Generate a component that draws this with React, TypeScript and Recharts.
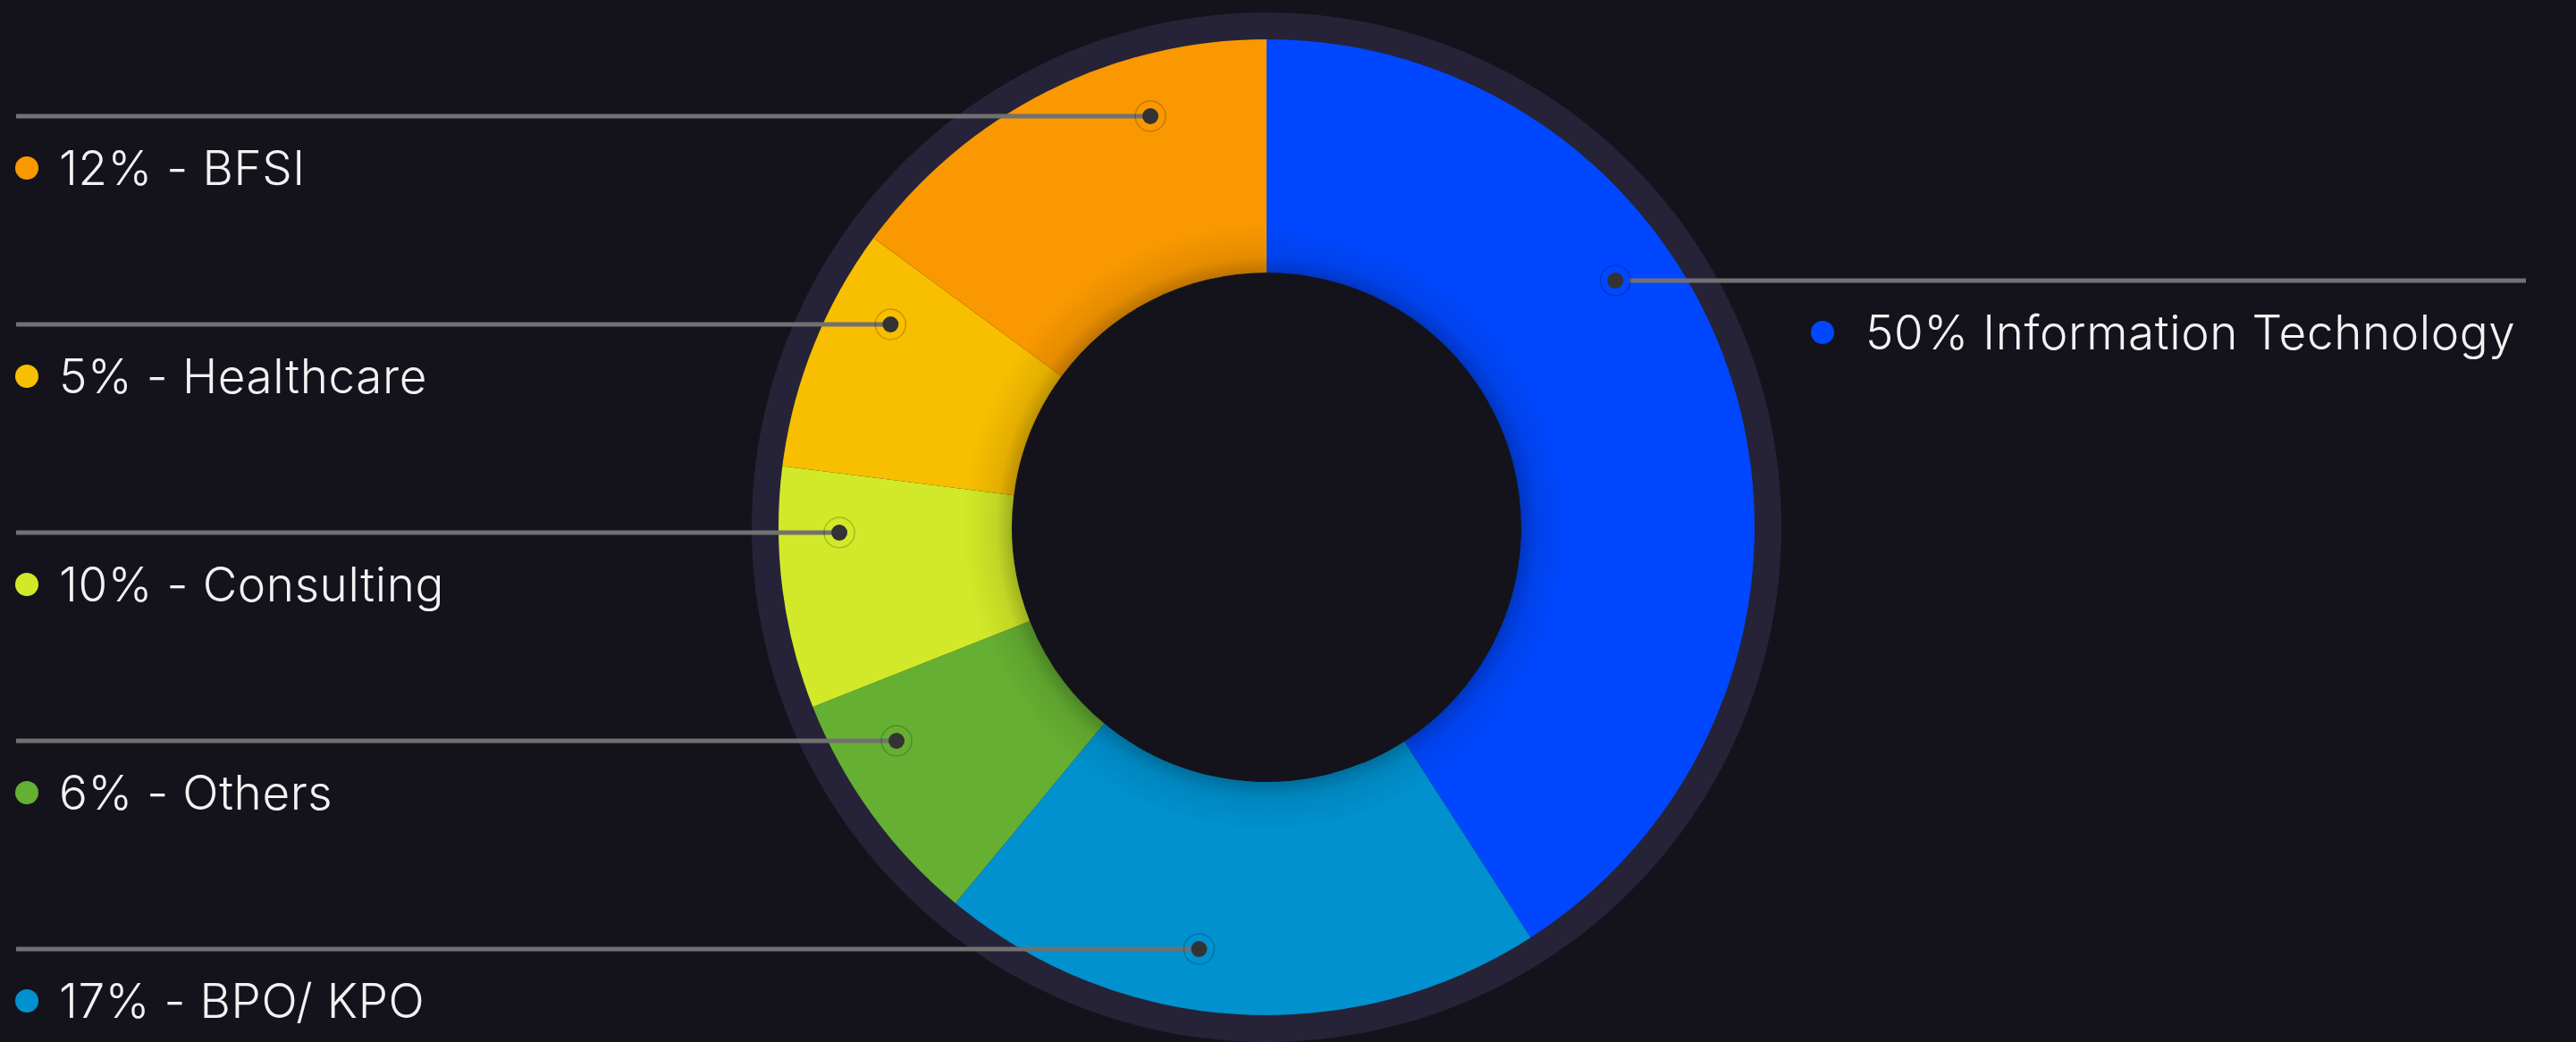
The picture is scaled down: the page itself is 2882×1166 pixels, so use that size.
import React from "react";
import { PieChart, Pie, Cell } from "recharts";

// ---- data ----
const categories = [
  "Information Technology",
  "BPO/ KPO",
  "Others",
  "Consulting",
  "Healthcare",
  "BFSI",
];
const sliceValues = [40.9, 20.1, 8.0, 8.0, 8.1, 14.9];
const labelPercents = [50, 17, 6, 10, 5, 12];
const colors = ["#0047FF", "#0091CE", "#65B032", "#D1E928", "#F8BE00", "#F99800"];

const data = categories.map((name, i) => ({
  name,
  value: sliceValues[i],
  pct: labelPercents[i],
}));
const ringData = [{ name: "ring", value: 1 }];

// ---- layout ----
const W = 2882;
const H = 1166;
const CX = 1417;
const CY = 590;
const BG = "#14131C";
const ROW_TOP = 130;
const ROW_GAP = 233;
const DOT_R = 478;
const FONT = "Inter, 'Open Sans', sans-serif";

const labelText = (i: number) =>
  i === 0 ? `${labelPercents[i]}% ${categories[i]}` : `${labelPercents[i]}% - ${categories[i]}`;

const renderLabel = (props: any) => {
  const { cx, cy, index } = props;
  const n = categories.length;
  const color = colors[index];
  if (index === 0) {
    const ly = cy - 276;
    const dy = ly - cy;
    const dx = Math.sqrt(DOT_R * DOT_R - dy * dy);
    const dotX = cx + dx;
    return (
      <g key={`lbl-${index}`}>
        <line x1={dotX + 16} y1={ly} x2={2826} y2={ly} stroke="#717171" strokeWidth={5} />
        <circle cx={dotX} cy={ly} r={17} fill="none" stroke="rgba(0,0,0,0.2)" strokeWidth={1.5} />
        <circle cx={dotX} cy={ly} r={9} fill="#333333" />
        <circle cx={2039} cy={ly + 58} r={13} fill={color} />
        <text x={2087} y={ly + 77} fill="#F2F2F2" fontSize={53} fontWeight={300} letterSpacing={0.6} fontFamily={FONT}>
          {labelText(index)}
        </text>
      </g>
    );
  }
  const row = n - 1 - index;
  const ly = ROW_TOP + row * ROW_GAP;
  const dy = ly - cy;
  const dx = Math.sqrt(Math.max(0, DOT_R * DOT_R - dy * dy));
  const dotX = cx - dx;
  return (
    <g key={`lbl-${index}`}>
      <line x1={18} y1={ly} x2={dotX} y2={ly} stroke="#717171" strokeWidth={5} />
      <circle cx={dotX} cy={ly} r={17} fill="none" stroke="rgba(0,0,0,0.2)" strokeWidth={1.5} />
      <circle cx={dotX} cy={ly} r={9} fill="#333333" />
      <circle cx={30} cy={ly + 58} r={13} fill={color} />
      <text x={66} y={ly + 77} fill="#F2F2F2" fontSize={53} fontWeight={300} letterSpacing={0.6} fontFamily={FONT}>
        {labelText(index)}
      </text>
    </g>
  );
};

export default function App() {
  return (
    <div style={{ position: "fixed", left: 0, top: 0, width: W, height: H, background: BG }}>
      <svg width={0} height={0} style={{ position: "absolute" }}>
        <defs>
          <radialGradient id="innerShadow" cx="50%" cy="50%" r="50%">
            <stop offset="0.838" stopColor="#000" stopOpacity={0.24} />
            <stop offset="0.89" stopColor="#000" stopOpacity={0.08} />
            <stop offset="1" stopColor="#000" stopOpacity={0} />
          </radialGradient>
        </defs>
      </svg>
      <PieChart width={W} height={H} margin={{ top: 0, right: 0, bottom: 0, left: 0 }}>
        <Pie
          data={ringData}
          dataKey="value"
          cx={CX}
          cy={CY}
          innerRadius={538}
          outerRadius={576}
          startAngle={90}
          endAngle={-270}
          stroke="none"
          fill="#262338"
          isAnimationActive={false}
        />
        <Pie
          data={data}
          dataKey="value"
          nameKey="name"
          cx={CX}
          cy={CY}
          innerRadius={285}
          outerRadius={546}
          startAngle={90}
          endAngle={-270}
          paddingAngle={0}
          stroke="none"
          label={renderLabel}
          labelLine={false}
          isAnimationActive={false}
        >
          {data.map((d, i) => (
            <Cell key={d.name} fill={colors[i]} stroke="none" />
          ))}
        </Pie>
        <Pie
          data={ringData}
          dataKey="value"
          cx={CX}
          cy={CY}
          innerRadius={285}
          outerRadius={340}
          startAngle={90}
          endAngle={-270}
          stroke="none"
          fill="url(#innerShadow)"
          isAnimationActive={false}
        />
      </PieChart>
    </div>
  );
}
